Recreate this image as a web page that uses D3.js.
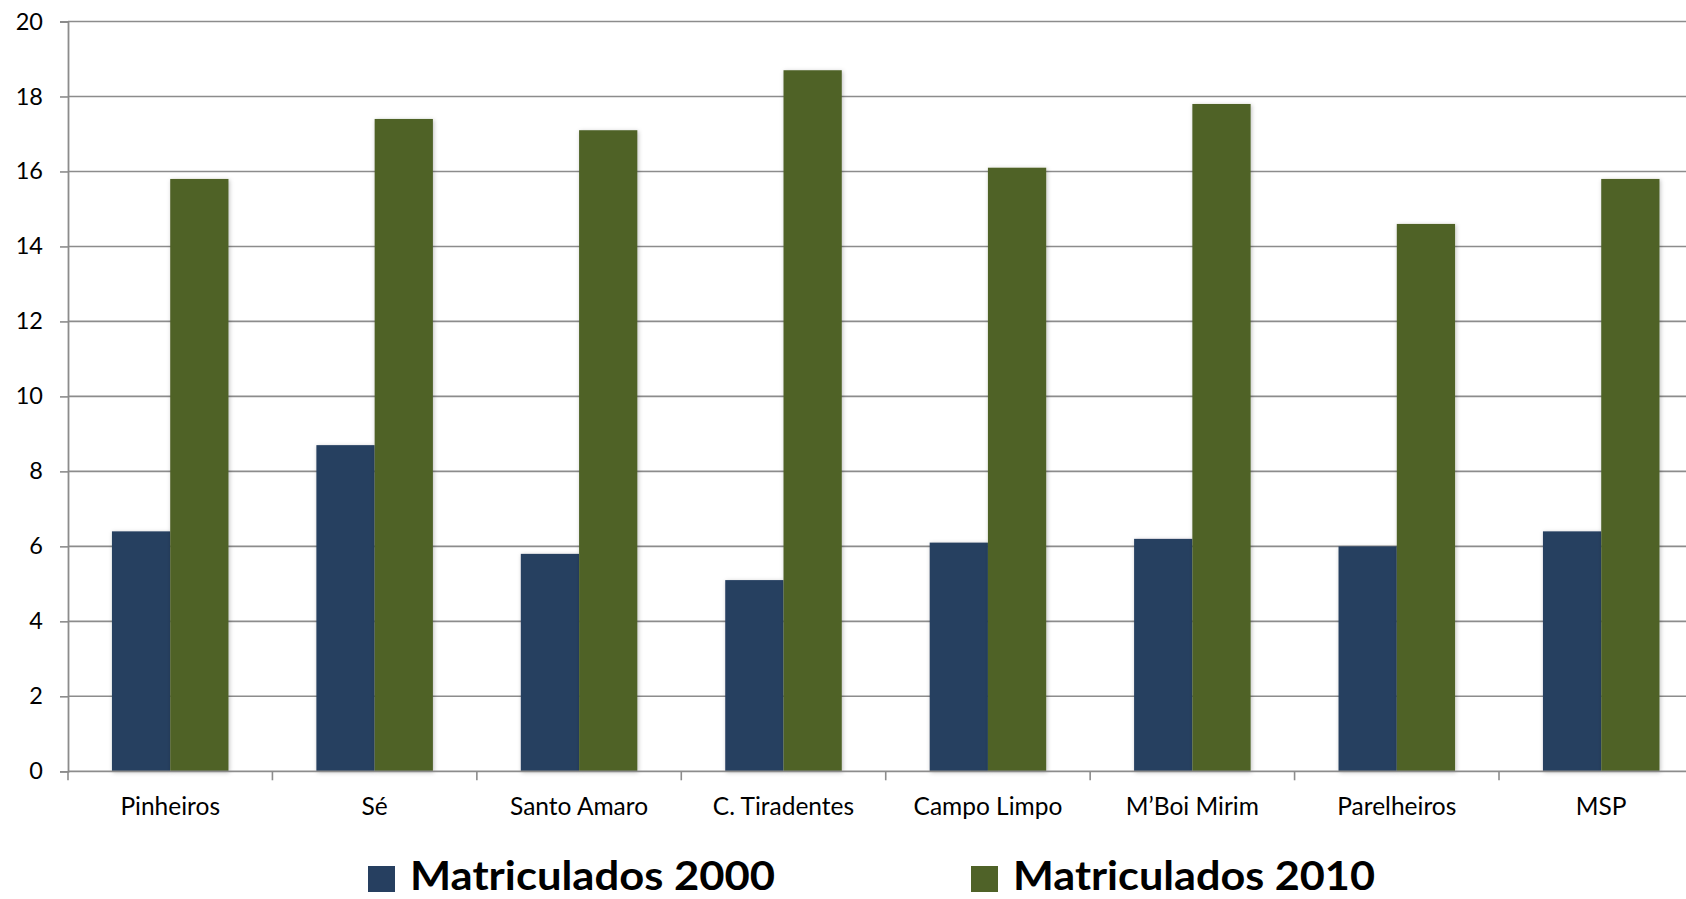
<!DOCTYPE html>
<html>
<head>
<meta charset="utf-8">
<script src="https://cdn.jsdelivr.net/npm/d3@7"></script>
<style>
  html, body { margin: 0; padding: 0; background: #fff; overflow: hidden; }
  svg { display: block; }
  text { font-family: Lato, "Open Sans", sans-serif; fill: #000; }
</style>
</head>
<body>
<svg id="chart" width="1686" height="899"></svg>
<script>
const categories = ["Pinheiros", "Sé", "Santo Amaro", "C. Tiradentes", "Campo Limpo", "M\u2019Boi Mirim", "Parelheiros", "MSP"];
const series2000 = [6.4, 8.7, 5.8, 5.1, 6.1, 6.2, 6.0, 6.4];
const series2010 = [15.8, 17.4, 17.1, 18.7, 16.1, 17.8, 14.6, 15.8];
const seriesNames = ["Matriculados 2000", "Matriculados 2010"];
const seriesColors = ["#263F60", "#4F6228"];
const yTicks = [0, 2, 4, 6, 8, 10, 12, 14, 16, 18, 20];

(function () {
const svg = d3.select("#chart");
const W = 1686, H = 899;
const mLeft = 68, mTop = 21.5, mBottom = 771.3;
const band = 204.43;

const x = d3.scaleBand().domain(categories).range([mLeft, mLeft + band * categories.length]).paddingInner(0).paddingOuter(0);
const y = d3.scaleLinear().domain([0, 20]).range([mBottom, mTop]);
const barW = x.bandwidth() * 0.285;

const defs = svg.append("defs");
const f = defs.append("filter").attr("id", "shadow").attr("x", "-20%").attr("y", "-5%").attr("width", "140%").attr("height", "110%");
f.append("feDropShadow").attr("dx", 1).attr("dy", 1).attr("stdDeviation", 2).attr("flood-color", "#000").attr("flood-opacity", 0.25);

const gridColor = "#8c8c8c";

// gridlines
svg.append("g").selectAll("line").data(yTicks.filter(d => d > 0)).join("line")
  .attr("x1", mLeft).attr("x2", W)
  .attr("y1", d => y(d)).attr("y2", d => y(d))
  .attr("stroke", gridColor).attr("stroke-width", 1.6);

// y axis
const yAxis = d3.axisLeft(y).tickValues(yTicks).tickSize(8).tickPadding(17).tickFormat(d3.format("d"));
const gy = svg.append("g").attr("transform", `translate(${mLeft},0)`).call(yAxis);
gy.select(".domain").attr("stroke", gridColor).attr("stroke-width", 1.8);
gy.selectAll(".tick line").attr("stroke", gridColor).attr("stroke-width", 1.6);
gy.selectAll(".tick text").attr("font-size", 23.5).attr("font-family", "Lato, sans-serif").attr("fill", "#000");

// bars
const groups = [series2000, series2010];
groups.forEach((vals, si) => {
  svg.append("g").selectAll("rect").data(categories).join("rect")
    .attr("x", (c) => x(c) + x.bandwidth() / 2 - barW + si * barW)
    .attr("y", (c, i) => y(vals[i]))
    .attr("width", barW)
    .attr("height", (c, i) => y(0) - y(vals[i]))
    .attr("fill", seriesColors[si])
    .attr("filter", "url(#shadow)");
});

// x axis
const boundaries = categories.map(c => x(c)).concat([x(categories[categories.length - 1]) + x.bandwidth()]);
const gx = svg.append("g");
gx.append("line").attr("x1", mLeft).attr("x2", W).attr("y1", y(0)).attr("y2", y(0))
  .attr("stroke", gridColor).attr("stroke-width", 1.8);
gx.selectAll("line.tk").data(boundaries).join("line").attr("class", "tk")
  .attr("x1", d => d).attr("x2", d => d).attr("y1", y(0)).attr("y2", y(0) + 9)
  .attr("stroke", gridColor).attr("stroke-width", 1.6);
gx.selectAll("text").data(categories).join("text")
  .attr("x", c => x(c) + x.bandwidth() / 2)
  .attr("y", 815)
  .attr("text-anchor", "middle")
  .attr("font-size", 24.5)
  .text(c => c);

// legend
const legendPos = [{sx: 368, tx: 410, tw: 365}, {sx: 971, tx: 1013, tw: 362}];
seriesNames.forEach((name, i) => {
  const p = legendPos[i];
  svg.append("rect").attr("x", p.sx).attr("y", 866).attr("width", 27).attr("height", 26).attr("fill", seriesColors[i]);
  svg.append("text").attr("x", p.tx).attr("y", 890)
    .attr("font-size", 40).attr("font-weight", 700)
    .attr("textLength", p.tw).attr("lengthAdjust", "spacingAndGlyphs")
    .text(name);
});
})();
</script>
</body>
</html>
